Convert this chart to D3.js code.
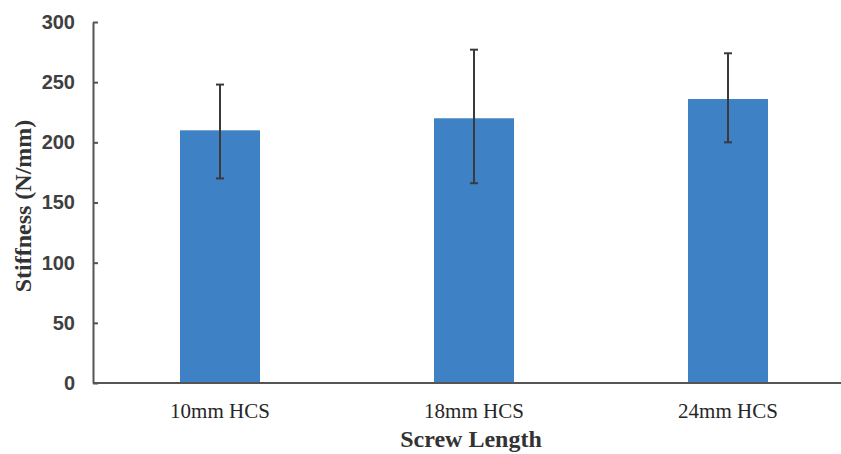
<!DOCTYPE html>
<html>
<head>
<meta charset="utf-8">
<script src="https://cdn.jsdelivr.net/npm/d3@7"></script>
<style>
  body { margin: 0; background: #fff; }
  svg { display: block; }
</style>
</head>
<body>
<svg id="chart"></svg>
<script>
const width = 841, height = 454;

// values
const categories = ["10mm HCS", "18mm HCS", "24mm HCS"];
const stiffness = [210, 220, 236];
const errLow = [170, 166, 200];
const errHigh = [248, 277, 274];
const yTicks = [0, 50, 100, 150, 200, 250, 300];

const svg = d3.select("#chart")
    .attr("width", width)
    .attr("height", height);

const x = d3.scaleBand()
    .domain(categories)
    .range([93, 855])
    .paddingInner(0.685)
    .paddingOuter(0.3425);

const y = d3.scaleLinear()
    .domain([0, 300])
    .range([383, 22]);

// bars
svg.append("g")
    .selectAll("rect")
    .data(categories)
    .join("rect")
    .attr("x", d => x(d))
    .attr("y", (d, i) => y(stiffness[i]))
    .attr("width", x.bandwidth())
    .attr("height", (d, i) => y(0) - y(stiffness[i]))
    .attr("fill", "#3f81c5");

// error bars
const err = svg.append("g")
    .attr("stroke", "#3a3a3a")
    .attr("stroke-width", 2);

categories.forEach((c, i) => {
    const cx = x(c) + x.bandwidth() / 2;
    err.append("line")
        .attr("x1", cx).attr("x2", cx)
        .attr("y1", y(errLow[i])).attr("y2", y(errHigh[i]));
    err.append("line")
        .attr("x1", cx - 4).attr("x2", cx + 4)
        .attr("y1", y(errLow[i])).attr("y2", y(errLow[i]));
    err.append("line")
        .attr("x1", cx - 4).attr("x2", cx + 4)
        .attr("y1", y(errHigh[i])).attr("y2", y(errHigh[i]));
});

// y axis
svg.append("g")
    .attr("transform", "translate(93,0)")
    .call(d3.axisLeft(y).tickValues(yTicks).tickSize(-5).tickPadding(18).tickSizeOuter(0))
    .call(g => g.select(".domain").attr("stroke", "#555").attr("stroke-width", 2))
    .call(g => g.selectAll(".tick line").attr("stroke", "#555").attr("stroke-width", 2))
    .call(g => g.selectAll("text")
        .attr("font-family", "'Liberation Sans', Arial, sans-serif")
        .attr("font-size", 20)
        .attr("font-weight", "bold")
        .attr("fill", "#404040"));

// x axis
svg.append("g")
    .attr("transform", "translate(0,383)")
    .call(d3.axisBottom(x).tickSize(0).tickPadding(20))
    .call(g => g.select(".domain").remove())
    .call(g => g.selectAll("text")
        .attr("font-family", "'Liberation Serif', 'Times New Roman', serif")
        .attr("font-size", 21)
        .attr("fill", "#262626"));

svg.append("line")
    .attr("x1", 93).attr("x2", width)
    .attr("y1", y(0)).attr("y2", y(0))
    .attr("stroke", "#555")
    .attr("stroke-width", 2);

// axis titles
svg.append("text")
    .attr("x", 471)
    .attr("y", 447)
    .attr("text-anchor", "middle")
    .attr("font-family", "'Liberation Serif', 'Times New Roman', serif")
    .attr("font-weight", "bold")
    .attr("font-size", 24)
    .attr("fill", "#333")
    .text("Screw Length");

svg.append("text")
    .attr("transform", "translate(31,206) rotate(-90)")
    .attr("text-anchor", "middle")
    .attr("font-family", "'Liberation Serif', 'Times New Roman', serif")
    .attr("font-weight", "bold")
    .attr("font-size", 24)
    .attr("fill", "#333")
    .text("Stiffness (N/mm)");
</script>
</body>
</html>
